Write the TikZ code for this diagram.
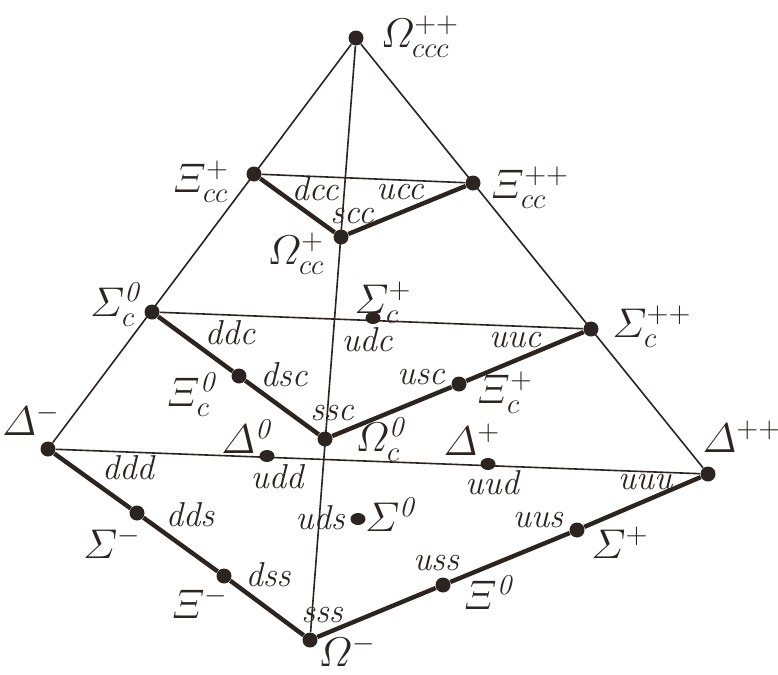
\documentclass[tikz,border=0pt]{standalone}
\usepackage{amsmath}
\usepackage{tikz}
\usetikzlibrary{shapes.geometric,backgrounds}
\definecolor{Ink}{HTML}{2B2421}

\begin{document}
\begin{tikzpicture}[
  x=0.5pt, y=-0.5pt,
  dot/.style={circle, fill=Ink, inner sep=0pt, minimum size=7.5pt},
  flatdot/.style={ellipse, fill=Ink, inner sep=0pt, minimum width=7.5pt, minimum height=6pt},
  edge/.style={draw=Ink, line width=0.8pt},
  bond/.style={draw=Ink, line width=2.2pt},
  hadron/.style={text=Ink, inner sep=0pt, font=\fontsize{20.74}{22}\selectfont},
  quark/.style={text=Ink, inner sep=0pt, font=\fontsize{17.28}{19}\selectfont\itshape},
]
  \useasboundingbox (0,0) rectangle (778,675);

  % charm = 3
  \node[dot] (omccc) at (356,38) {};
  % charm = 2
  \node[dot] (xicc1) at (254,174) {};
  \node[dot] (xicc2) at (473,183) {};
  \node[dot] (omcc)  at (341,237) {};
  % charm = 1
  \node[dot]     (sigc0) at (152,312) {};
  \node[flatdot] (sigc1) at (373,318) {};
  \node[dot]     (sigc2) at (591,329) {};
  \node[dot]     (xic0)  at (239,376) {};
  \node[dot]     (xic1)  at (459,384) {};
  \node[dot]     (omc0)  at (325,439) {};
  % charm = 0
  \node[dot]     (dlm)  at (48,449) {};
  \node[flatdot] (dl0)  at (267,456) {};
  \node[flatdot] (dlp)  at (488,464) {};
  \node[dot]     (dlpp) at (708,474) {};
  \node[dot]     (sigm) at (137,513) {};
  \node[flatdot] (sig0) at (358,519) {};
  \node[dot]     (sigp) at (577,530) {};
  \node[dot]     (xim)  at (224,576) {};
  \node[dot]     (xi0)  at (443,585) {};
  \node[dot]     (omm)  at (310,640) {};

  \begin{scope}[on background layer]
    \fill[white] (0,0) rectangle (778,675);
    \draw[edge] (omccc) -- (dlm);
    \draw[edge] (omccc) -- (dlpp);
    \draw[edge] (omccc) -- (omm);
    \draw[edge] (xicc1) -- (xicc2);
    \draw[edge] (sigc0) -- (sigc2);
    \draw[edge] (dlm) -- (dlpp);
    \draw[bond] (xicc1) -- (omcc) -- (xicc2);
    \draw[bond] (sigc0) -- (xic0) -- (omc0) -- (xic1) -- (sigc2);
    \draw[bond] (dlm) -- (sigm) -- (xim) -- (omm) -- (xi0) -- (sigp) -- (dlpp);
  \end{scope}

  % particle names
  \node[hadron] (l-omccc) at (420,37)  {$\varOmega^{++}_{ccc}$};
  \node[hadron] (l-xicc1) at (201,182) {$\varXi^{+}_{cc}$};
  \node[hadron] (l-xicc2) at (530,188) {$\varXi^{++}_{cc}$};
  \node[hadron] (l-omcc)  at (296,254) {$\varOmega^{+}_{cc}$};
  \node[hadron] (l-sigc0) at (117,305) {$\varSigma^{\mathit{0}}_{c}$};
  \node[hadron] (l-sigc1) at (383,303) {$\varSigma^{+}_{c}$};
  \node[hadron] (l-sigc2) at (652,327) {$\varSigma^{++}_{c}$};
  \node[hadron] (l-xic0)  at (193,395) {$\varXi^{\mathit{0}}_{c}$};
  \node[hadron] (l-omc0)  at (382,440) {$\varOmega^{\mathit{0}}_{c}$};
  \node[hadron] (l-xic1)  at (505,393) {$\varXi^{+}_{c}$};
  \node[hadron] (l-dlm)   at (31,420)  {$\varDelta^{-}$};
  \node[hadron] (l-dl0)   at (248,437) {$\varDelta^{\mathit{0}}$};
  \node[hadron] (l-dlp)   at (472,440) {$\varDelta^{+}$};
  \node[hadron] (l-dlpp)  at (742,437) {$\varDelta^{++}$};
  \node[hadron] (l-sigm)  at (112,543) {$\varSigma^{-}$};
  \node[hadron] (l-sig0)  at (392,515) {$\varSigma^{\mathit{0}}$};
  \node[hadron] (l-sigp)  at (620,543) {$\varSigma^{+}$};
  \node[hadron] (l-xim)   at (200,603) {$\varXi^{-}$};
  \node[hadron] (l-xi0)   at (490,593) {$\varXi^{\mathit{0}}$};
  \node[hadron] (l-omm)   at (347,651) {$\varOmega^{-}$};

  % quark content
  \node[quark] (q-dcc) at (315,189) {dcc};
  \node[quark] (q-ucc) at (400,192) {ucc};
  \node[quark] (q-scc) at (352,216) {scc};
  \node[quark] (q-ddc) at (230,333) {ddc};
  \node[quark] (q-udc) at (367,340) {udc};
  \node[quark] (q-uuc) at (515,340) {uuc};
  \node[quark] (q-dsc) at (284,375) {dsc};
  \node[quark] (q-usc) at (421,377) {usc};
  \node[quark] (q-ssc) at (332,413) {ssc};
  \node[quark] (q-ddd) at (128,468) {ddd};
  \node[quark] (q-udd) at (277,477) {udd};
  \node[quark] (q-uud) at (492,483) {uud};
  \node[quark] (q-uuu) at (645,482) {uuu};
  \node[quark] (q-dds) at (190,515) {dds};
  \node[quark] (q-uds) at (320,518) {uds};
  \node[quark] (q-uus) at (538,520) {uus};
  \node[quark] (q-dss) at (268,575) {dss};
  \node[quark] (q-uss) at (436,563) {uss};
  \node[quark] (q-sss) at (322,615) {sss};
\end{tikzpicture}
\end{document}
